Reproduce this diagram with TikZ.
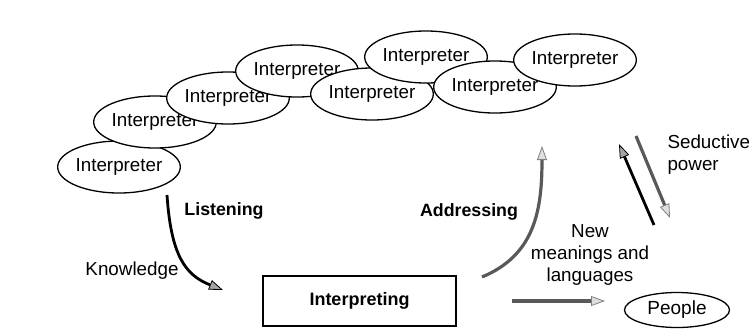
\documentclass[tikz,border=0pt]{standalone}
\usepackage{fontspec}
\setmainfont{Liberation Sans}
\usetikzlibrary{shapes.geometric,arrows.meta}
\begin{document}
\begin{tikzpicture}[x=1pt,y=-1pt,
  interp/.style={ellipse,draw,line width=1.3pt,fill=white,minimum width=100pt,
    minimum height=52pt,inner sep=0pt,font=\fontsize{18.8}{21}\selectfont},
  lbl/.style={font=\fontsize{18.8}{22}\selectfont,align=center},
  blbl/.style={font=\fontsize{17.8}{21}\selectfont\bfseries},
  blackarrow/.style={line width=2.8pt,black,
    -{Triangle[length=14pt,width=10pt,fill=gray!70,color=black,line width=0.8pt]}},
  greyarrow/.style={line width=3.2pt,gray!70!black,
    -{Triangle[length=14pt,width=10pt,fill=gray!25,color=gray,line width=0.8pt]}}]
\useasboundingbox (0,0) rectangle (750,335);
\fill[white] (0,0) rectangle (750,335);

% chain of interpreters
\node[interp] (i1) at (119,167) {Interpreter};
\node[interp] (i2) at (155,122) {Interpreter};
\node[interp] (i3) at (228,98) {Interpreter};
\node[interp] (i4) at (297,71) {Interpreter};
\node[interp] (i5) at (372,94) {Interpreter};
\node[interp] (i6) at (426,57) {Interpreter};
\node[interp] (i7) at (495,87) {Interpreter};
\node[interp] (i8) at (575,60) {Interpreter};

% central process and audience
\node[draw,line width=1.3pt,minimum width=193pt,minimum height=50pt,
  font=\fontsize{18}{21}\selectfont\bfseries] (box) at (359.5,301) {Interpreting};
\node[ellipse,draw,line width=1.3pt,minimum width=105pt,minimum height=35pt,
  inner sep=0pt,font=\fontsize{19}{21}\selectfont] (people) at (677,310) {People};

% labels
\node[blbl] (listen) at (224,211) {Listening};
\node[lbl] (know) at (132,271) {Knowledge};
\node[blbl] (addr) at (469,212) {Addressing};
\node[lbl] (newm) at (590,255) {New\\meanings and\\languages};
\node[lbl,align=left,anchor=west] (seduce) at (664,155) {Seductive\\power};

% arrow end points
\coordinate (ls) at (167,195);
\coordinate (le) at (223,290);
\coordinate (as) at (482,277);
\coordinate (ae) at (542,146);
\coordinate (ns) at (512,301);
\coordinate (ne) at (605,301);
\coordinate (bs) at (654,225);
\coordinate (be) at (619,144);
\coordinate (gs) at (636,136);
\coordinate (ge) at (670,218);

\draw[blackarrow] (ls) .. controls (171,255) and (185,275) .. (le);
\draw[greyarrow] (as) .. controls (535,255) and (542,210) .. (ae);
\draw[greyarrow] (ns) -- (ne);
\draw[blackarrow] (bs) -- (be);
\draw[greyarrow] (gs) -- (ge);
\end{tikzpicture}
\end{document}
